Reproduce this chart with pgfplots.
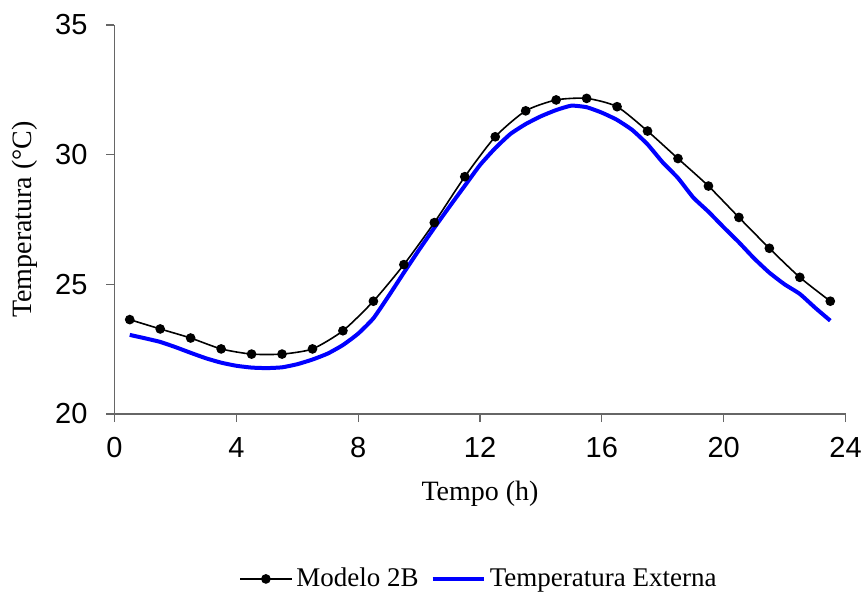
\documentclass[border=0pt]{standalone}
\usepackage{fontspec}
\setmainfont{Liberation Serif}
\newfontfamily\arialf{Liberation Sans}
\usepackage{pgfplots}
\pgfplotsset{compat=1.18}
\begin{document}
\begin{tikzpicture}
\begin{axis}[
  scale only axis,
  width=365.5pt, height=194.5pt,
  xmin=0, xmax=24, ymin=20, ymax=35,
  xtick={0,4,...,24}, ytick={20,25,30,35},
  axis lines=left,
  axis line style={draw=black!60, line width=0.6pt, -},
  tick style={draw=black!60, line width=0.6pt},
  tick align=outside, major tick length=4pt,
  /pgf/number format/assume math mode=true,
  ticklabel style={font=\arialf\fontsize{14.5}{16}\selectfont},
  xticklabel style={yshift=-4pt},
  yticklabel style={xshift=-6pt},
  xlabel={Tempo (h)}, ylabel={Temperatura (°C)},
  label style={font=\fontsize{14}{16}\selectfont},
  xlabel style={yshift=-5pt},
  ylabel style={yshift=2pt},
  legend style={at={(0.5,-0.424)}, anchor=center, draw=none, fill=none,
    font=\fontsize{13.5}{16}\selectfont, legend columns=2,
    /tikz/every even column/.append style={column sep=4pt}},
  legend cell align=left,
  legend image code/.code={\draw[mark repeat=2, mark phase=2, #1] plot coordinates {(0cm,0cm) (0.45cm,0cm) (0.9cm,0cm)};},
  clip=false,
]
\addplot[black, line width=0.8pt, smooth, tension=0.4, mark=*, mark size=2pt,
  mark options={solid, fill=black}] coordinates {
(0.5,23.64) (1.5,23.28) (2.5,22.93) (3.5,22.51) (4.5,22.31) (5.5,22.31)
(6.5,22.51) (7.5,23.21) (8.5,24.35) (9.5,25.76) (10.5,27.38) (11.5,29.15)
(12.5,30.69) (13.5,31.69) (14.5,32.11) (15.5,32.17) (16.5,31.85) (17.5,30.91)
(18.5,29.85) (19.5,28.79) (20.5,27.58) (21.5,26.39) (22.5,25.27) (23.5,24.35)
};
\addlegendentry{Modelo 2B}
\addplot[blue, line width=2pt, smooth, tension=0.3] coordinates {
(0.5,23.05) (1.0,22.92) (1.5,22.78) (2.0,22.58) (2.5,22.36) (3.0,22.15)
(3.5,21.98) (4.0,21.86) (4.5,21.79) (5.0,21.77) (5.5,21.80) (6.0,21.92)
(6.5,22.10) (7.0,22.33) (7.5,22.66) (8.0,23.10) (8.5,23.69) (9.0,24.55)
(9.5,25.45) (10.0,26.33) (10.5,27.18) (11.0,28.00) (11.5,28.80) (12.0,29.60)
(12.5,30.25) (13.0,30.80) (13.5,31.18) (14.0,31.48) (14.5,31.72) (15.0,31.89)
(15.5,31.83) (16.0,31.62) (16.5,31.34) (17.0,30.95) (17.5,30.40) (18.0,29.70)
(18.5,29.10) (19.0,28.35) (19.5,27.80) (20.0,27.20) (20.5,26.62) (21.0,26.00)
(21.5,25.45) (22.0,25.00) (22.5,24.63) (23.0,24.10) (23.5,23.60)
};
\addlegendentry{Temperatura Externa}
\end{axis}
\pgfresetboundingbox
\path[use as bounding box] ([shift={(-57.25pt,-92.5pt)}]current axis.south west) rectangle ([shift={(9.25pt,12.5pt)}]current axis.north east);
\end{tikzpicture}
\end{document}
